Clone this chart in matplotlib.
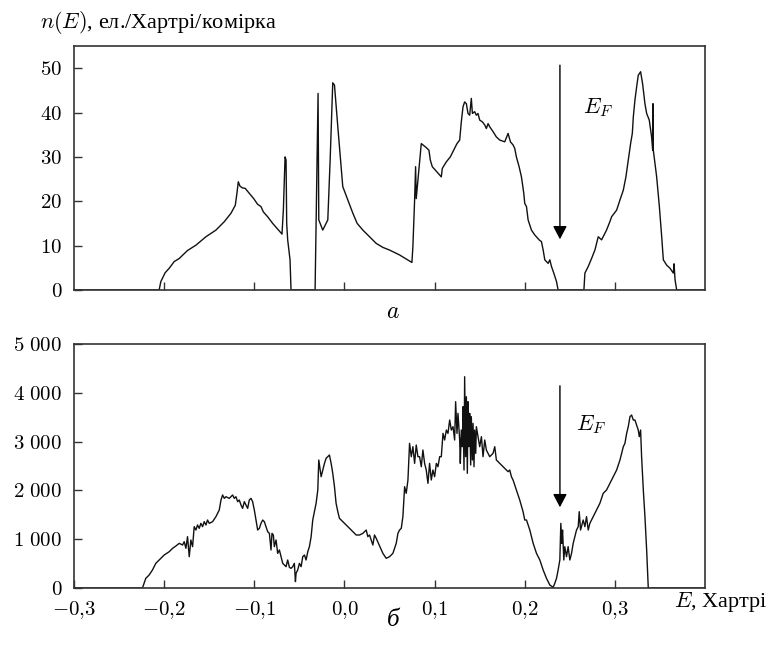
import numpy as np
import matplotlib
matplotlib.use("Agg")
import matplotlib.pyplot as plt

plt.rcParams['mathtext.fontset'] = 'cm'
plt.rcParams['font.family'] = ['Liberation Serif']

# panel a: n(E), el./Hartree/cell
E_a = [-0.30, -0.2056, -0.2037, -0.1989, -0.1944, -0.1889, -0.1833, -0.1741, -0.1648, -0.1537,
       -0.1426, -0.1333, -0.1259, -0.1211, -0.1193, -0.1178, -0.1159, -0.1130, -0.1100, -0.1085,
       -0.1056, -0.1007, -0.0963, -0.0926, -0.0900, -0.0852, -0.0796, -0.0741, -0.0693, -0.0678,
       -0.0659, -0.0648, -0.0641, -0.0630, -0.0604, -0.0593, -0.0326, -0.0311, -0.0293, -0.0285,
       -0.0241, -0.0185, -0.0159, -0.0130, -0.0111, -0.0074, -0.0019, 0.0037, 0.0093, 0.0141,
       0.0204, 0.0278, 0.0352, 0.0426, 0.0500, 0.0611, 0.0748, 0.0759, 0.0778, 0.0789,
       0.0796, 0.0852, 0.0907, 0.0937, 0.0952, 0.0974, 0.1026, 0.1074, 0.1085, 0.1130,
       0.1174, 0.1211, 0.1248, 0.1278, 0.1296, 0.1315, 0.1333, 0.1352, 0.1370, 0.1389,
       0.1407, 0.1419, 0.1444, 0.1463, 0.1481, 0.1500, 0.1530, 0.1556, 0.1574, 0.1593,
       0.1611, 0.1648, 0.1685, 0.1722, 0.1778, 0.1815, 0.1841, 0.1870, 0.1889, 0.1907,
       0.1937, 0.1963, 0.1989, 0.2000, 0.2019, 0.2037, 0.2074, 0.2111, 0.2159, 0.2185,
       0.2204, 0.2222, 0.2259, 0.2278, 0.2296, 0.2322, 0.2352, 0.2370, 0.2656, 0.2667,
       0.2704, 0.2741, 0.2778, 0.2815, 0.2852, 0.2907, 0.2944, 0.2963, 0.3019, 0.3056,
       0.3093, 0.3122, 0.3148, 0.3174, 0.3193, 0.3204, 0.3222, 0.3241, 0.3259, 0.3285,
       0.3307, 0.3333, 0.3352, 0.3381, 0.3407, 0.3419, 0.3422, 0.3426, 0.3463, 0.3493,
       0.3519, 0.3537, 0.3574, 0.3611, 0.3648, 0.3656, 0.3667, 0.3685, 0.40]
n_a = [0, 0, 1.9, 3.9, 4.9, 6.4, 7.1, 8.9, 10.1, 12.0,
       13.5, 15.4, 17.3, 19.1, 21.8, 24.4, 23.4, 23.0, 22.9, 22.5,
       21.8, 20.6, 19.3, 18.8, 17.6, 16.5, 15.0, 13.7, 12.6, 18.0,
       30.0, 29.3, 15.0, 11.3, 6.8, 0, 0, 20.3, 44.3, 15.8,
       13.5, 15.8, 29.3, 46.7, 46.2, 36.8, 23.3, 20.3, 17.3, 15.0,
       13.5, 12.0, 10.5, 9.6, 9.0, 7.9, 6.2, 9.8, 20.3, 27.8,
       20.6, 33.0, 32.1, 31.5, 29.3, 27.8, 26.6, 25.5, 27.4, 28.9,
       30.0, 31.5, 33.0, 33.8, 37.9, 41.3, 42.4, 42.0, 39.8, 39.4,
       43.2, 39.8, 40.2, 39.4, 39.8, 38.3, 37.9, 37.2, 36.4, 37.5,
       36.8, 35.7, 34.5, 33.8, 33.4, 35.3, 33.4, 32.7, 31.9, 30.0,
       27.8, 25.5, 21.8, 19.5, 18.8, 15.8, 13.5, 12.4, 11.3, 10.9,
       9.0, 6.8, 6.0, 6.8, 5.3, 3.8, 1.9, 0, 0, 3.8,
       5.3, 7.1, 9.0, 12.0, 11.3, 13.5, 15.4, 16.5, 18.0, 20.3,
       22.5, 25.5, 29.3, 33.0, 35.3, 39.0, 42.8, 45.8, 48.4, 49.2,
       46.5, 42.0, 39.8, 38.3, 34.5, 31.5, 42.0, 31.5, 25.5, 18.8,
       12.0, 6.8, 5.6, 4.9, 3.8, 5.9, 2.3, 0, 0]

# panel b
E_b = [-0.30, -0.2241, -0.2204, -0.2167, -0.2130, -0.2093, -0.2056, -0.2000, -0.1944, -0.1907,
       -0.1870, -0.1833, -0.1796, -0.1778, -0.1759, -0.1741, -0.1722, -0.1704, -0.1685, -0.1667,
       -0.1648, -0.1630, -0.1611, -0.1593, -0.1574, -0.1556, -0.1537, -0.1519, -0.1500, -0.1463,
       -0.1426, -0.1389, -0.1370, -0.1352, -0.1333, -0.1315, -0.1278, -0.1241, -0.1222, -0.1204,
       -0.1185, -0.1167, -0.1148, -0.1130, -0.1111, -0.1093, -0.1074, -0.1056, -0.1037, -0.1019,
       -0.1000, -0.0981, -0.0963, -0.0944, -0.0926, -0.0907, -0.0889, -0.0870, -0.0852, -0.0833,
       -0.0815, -0.0804, -0.0789, -0.0778, -0.0759, -0.0741, -0.0722, -0.0704, -0.0685, -0.0667,
       -0.0648, -0.0630, -0.0611, -0.0593, -0.0574, -0.0556, -0.0544, -0.0537, -0.0519, -0.0500,
       -0.0481, -0.0463, -0.0444, -0.0426, -0.0407, -0.0389, -0.0370, -0.0352, -0.0333, -0.0315,
       -0.0296, -0.0285, -0.0270, -0.0259, -0.0241, -0.0222, -0.0204, -0.0185, -0.0167, -0.0148,
       -0.0130, -0.0111, -0.0093, -0.0074, -0.0056, -0.0019, 0.0019, 0.0056, 0.0093, 0.0130,
       0.0167, 0.0204, 0.0241, 0.0259, 0.0278, 0.0296, 0.0315, 0.0333, 0.0352, 0.0426,
       0.0463, 0.0500, 0.0537, 0.0574, 0.0593, 0.0611, 0.0630, 0.0648, 0.0667, 0.0685,
       0.0704, 0.0722, 0.0741, 0.0759, 0.0778, 0.0796, 0.0815, 0.0833, 0.0852, 0.0870,
       0.0889, 0.0907, 0.0926, 0.0944, 0.0963, 0.0981, 0.1000, 0.1019, 0.1037, 0.1056,
       0.1074, 0.1093, 0.1111, 0.1130, 0.1148, 0.1167, 0.1185, 0.1204, 0.1222, 0.1233,
       0.1248, 0.1259, 0.1278, 0.1285, 0.1296, 0.1307, 0.1315, 0.1326, 0.1333, 0.1344,
       0.1352, 0.1363, 0.1370, 0.1381, 0.1389, 0.1400, 0.1407, 0.1419, 0.1426, 0.1437,
       0.1444, 0.1456, 0.1463, 0.1481, 0.1500, 0.1519, 0.1537, 0.1556, 0.1574, 0.1611,
       0.1648, 0.1667, 0.1685, 0.1722, 0.1759, 0.1796, 0.1815, 0.1833, 0.1852, 0.1870,
       0.1907, 0.1944, 0.1981, 0.2000, 0.2019, 0.2056, 0.2093, 0.2130, 0.2167, 0.2204,
       0.2241, 0.2278, 0.2315, 0.2333, 0.2352, 0.2370, 0.2389, 0.2400, 0.2411, 0.2419,
       0.2433, 0.2444, 0.2463, 0.2481, 0.2500, 0.2519, 0.2537, 0.2556, 0.2574, 0.2593,
       0.2604, 0.2619, 0.2648, 0.2667, 0.2685, 0.2704, 0.2722, 0.2759, 0.2796, 0.2833,
       0.2870, 0.2907, 0.2944, 0.2981, 0.3019, 0.3056, 0.3093, 0.3111, 0.3130, 0.3148,
       0.3167, 0.3185, 0.3204, 0.3222, 0.3241, 0.3259, 0.3270, 0.3285, 0.3296, 0.3315,
       0.3333, 0.3352, 0.3370, 0.40]
n_b = [0, 0, 198, 266, 369, 505, 574, 676, 744, 813,
       861, 915, 881, 949, 813, 1052, 642, 984, 847, 1257,
       1188, 1291, 1223, 1325, 1257, 1359, 1291, 1393, 1325, 1359,
       1462, 1598, 1803, 1906, 1837, 1871, 1837, 1906, 1837, 1871,
       1769, 1803, 1701, 1632, 1769, 1701, 1632, 1803, 1837, 1769,
       1598, 1393, 1188, 1223, 1325, 1393, 1359, 1257, 1154, 1120,
       779, 1120, 1086, 847, 984, 710, 779, 642, 505, 471,
       437, 574, 423, 403, 437, 505, 130, 301, 369, 505,
       437, 642, 676, 574, 744, 847, 1052, 1393, 1564, 1735,
       2008, 2623, 2418, 2281, 2418, 2554, 2657, 2691, 2725, 2554,
       2350, 2076, 1735, 1564, 1428, 1359, 1291, 1223, 1154, 1086,
       1086, 1120, 1188, 1052, 1086, 984, 881, 1086, 1018, 710,
       608, 642, 710, 915, 1120, 1188, 1223, 1462, 2076, 1940,
       2213, 2964, 2691, 2896, 2554, 2930, 2691, 2691, 2486, 2828,
       2554, 2418, 2145, 2554, 2213, 2418, 2281, 2554, 2486, 2691,
       2691, 3169, 3033, 3237, 3169, 3442, 3237, 3306, 3033, 3818,
       3169, 3579, 3033, 2554, 3237, 2896, 3716, 2418, 4330, 2691,
       3920, 2350, 3818, 2896, 3579, 2520, 3511, 2623, 3374, 2486,
       3237, 2759, 3306, 3101, 2896, 3101, 2691, 3033, 2828, 2691,
       2759, 2896, 2623, 2554, 2486, 2418, 2384, 2418, 2281, 2213,
       2008, 1803, 1564, 1393, 1393, 1188, 915, 710, 574, 369,
       198, 61, 14, 96, 198, 369, 574, 1325, 915, 1188,
       574, 847, 642, 847, 574, 710, 915, 1052, 1188, 1257,
       1564, 1188, 1393, 1257, 1462, 1188, 1325, 1462, 1598, 1735,
       1940, 2008, 2145, 2281, 2418, 2623, 2896, 2964, 3169, 3306,
       3511, 3545, 3442, 3442, 3340, 3237, 3101, 3237, 2691, 2008,
       1462, 779, 0, 0]

E_ticks = [-0.3, -0.2, -0.1, 0.0, 0.1, 0.2, 0.3]
E_ticklabels = ['$-0{,}3$', '$-0{,}2$', '$-0{,}1$', '$0{,}0$', '$0{,}1$', '$0{,}2$', '$0{,}3$']
a_yticks = [0, 10, 20, 30, 40, 50]
b_yticks = [0, 1000, 2000, 3000, 4000, 5000]
b_yticklabels = ['$0$', '$1\\ 000$', '$2\\ 000$', '$3\\ 000$', '$4\\ 000$', '$5\\ 000$']
E_F = 0.239

fig = plt.figure(figsize=(7.72, 6.48), dpi=100)
ax1 = fig.add_axes([0.0959, 0.5525, 0.8174, 0.3765])
ax2 = fig.add_axes([0.0959, 0.0926, 0.8174, 0.3765])

fs = 15
for ax in (ax1, ax2):
    ax.set_xlim(-0.3, 0.4)
    ax.set_xticks(E_ticks[1:])
    ax.tick_params(direction='in', length=6, width=1, color='#333333',
                   top=False, right=False, labelsize=fs)
    ax.tick_params(axis='y', pad=8.5)
    ax.tick_params(axis='x', pad=8)
    for s in ax.spines.values():
        s.set_color('#333333')
        s.set_linewidth(1.2)

arrow = dict(arrowstyle='-|>,head_length=0.8,head_width=0.42', color='black', lw=1.0)

ax1.plot(E_a, n_a, color='#111111', lw=1.0)
ax1.set_ylim(0, 55)
ax1.set_yticks(a_yticks)
ax1.set_yticklabels(['$%d$' % v for v in a_yticks])
ax1.set_xticklabels([])
ax1.annotate('', xy=(E_F, 10.8), xytext=(E_F, 51.3), arrowprops=arrow)
ax1.text(0.281, 41.2, '$E_F$', fontsize=16, ha='center', va='center')

ax2.plot(E_b, n_b, color='#111111', lw=1.0)
ax2.set_ylim(0, 5000)
ax2.set_yticks(b_yticks)
ax2.set_yticklabels(b_yticklabels)
ax2.set_xticks(E_ticks)
ax2.set_xticklabels(E_ticklabels)
ax2.annotate('', xy=(E_F, 1598), xytext=(E_F, 4200), arrowprops=arrow)
ax2.text(0.273, 3340, '$E_F$', fontsize=16, ha='center', va='center')

fig.text(0.052, 0.957, '$n(E)$, ел./Хартрі/комірка', fontsize=16, ha='left', va='baseline')
fig.text(0.509, 0.517, '$a$', fontsize=17, ha='center', va='center')
fig.text(0.509, 0.043, 'б', fontsize=18, style='italic', ha='center', va='center')
fig.text(0.873, 0.071, '$E$, Хартрі', fontsize=16, ha='left', va='center')

fig.savefig('out.png', dpi=100)
